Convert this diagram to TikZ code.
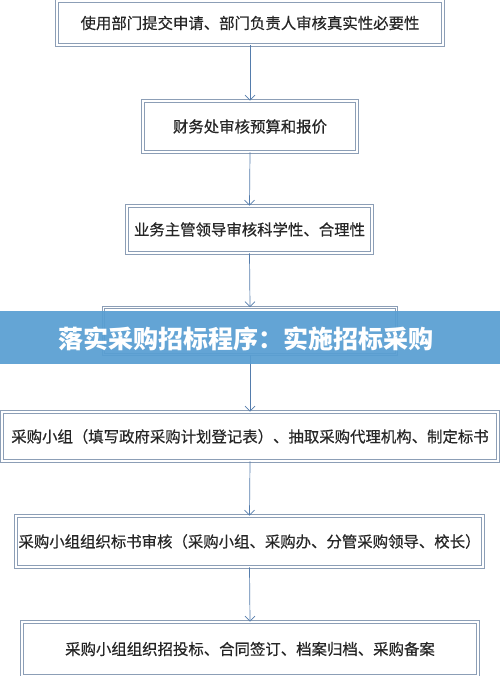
\documentclass[tikz,border=0pt]{standalone}
\usepackage{fontspec}
\newfontfamily\cjk[FakeBold=0.5]{Noto Sans CJK SC}
\newfontfamily\cjkband{Noto Sans CJK SC}
\usetikzlibrary{arrows.meta}
\definecolor{boxline}{RGB}{140,158,182}
\definecolor{arrowline}{RGB}{84,124,172}
\definecolor{bandblue}{RGB}{88,158,210}
\tikzset{
 stepbox/.style={draw=boxline,double=white,double distance=1.6pt,
  line width=.8pt,fill=white,inner sep=0pt,text=black!85,
  font=\cjk\fontsize{15.4}{18}\selectfont},
 flow/.style={draw=arrowline,line width=.7pt,
  -{Straight Barb[length=5pt,width=10pt]}},
}
\begin{document}
\begin{tikzpicture}[x=1pt,y=-1pt]
 \useasboundingbox (0,0) rectangle (500,676);
 % the seven steps
 \node[stepbox,minimum width=386pt,minimum height=44pt] (apply) at (250,23)
  {使用部门提交申请、部门负责人审核真实性必要性};
 \node[stepbox,minimum width=214pt,minimum height=51pt] (budget) at (250,126.5)
  {财务处审核预算和报价};
 \node[stepbox,minimum width=245pt,minimum height=47pt] (leader) at (249.5,229.5)
  {业务主管领导审核科学性、合理性};
 \node[stepbox,minimum width=293pt,minimum height=47pt] (hidden) at (250,331) {};
 \node[stepbox,minimum width=496pt,minimum height=49pt] (group) at (250,436.5)
  {采购小组（填写政府采购计划登记表）、抽取采购代理机构、制定标书};
 \node[stepbox,minimum width=467pt,minimum height=51pt] (review) at (249.5,541.5)
  {采购小组组织标书审核（采购小组、采购办、分管采购领导、校长）};
 \node[stepbox,minimum width=456pt,minimum height=54pt] (tender) at (250,649)
  {采购小组组织招投标、合同签订、档案归档、采购备案};
 % arrows
 \foreach \from/\to in {apply/budget,budget/leader,leader/hidden,
  hidden/group,group/review,review/tender}
  \draw[flow] (\from.south)--(\to.north);
 % banner over the fourth step
 \node[fill=bandblue,fill opacity=.93,minimum width=500pt,minimum height=53pt,
  inner sep=0pt] (band) at (250,337.5) {};
 \node[text=white,font=\cjkband\bfseries\fontsize{25}{28}\selectfont] (title)
  at (246,339) {落实采购招标程序：实施招标采购};
\end{tikzpicture}
\end{document}
